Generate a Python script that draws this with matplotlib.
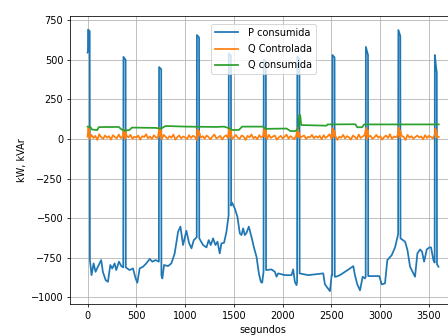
import matplotlib
matplotlib.use('Agg')
import matplotlib.pyplot as plt
import numpy as np

# P consumida (kW): time (s) and value
t_p = [0, 4, 5, 22, 24,
       41, 62, 82, 106, 140, 157, 185, 209, 233, 253, 277, 294, 322, 346, 366,
       368, 390, 392,
       431, 466, 493, 510, 534, 568, 602, 637, 664, 698, 731,
       733, 755, 757,
       767, 784, 825, 859, 893, 928, 952, 979, 1013, 1040, 1065, 1089, 1119,
       1121, 1143, 1145,
       1184, 1219, 1242, 1263, 1287, 1311, 1332, 1355, 1372, 1399, 1424, 1446,
       1448, 1470, 1472,
       1482, 1509, 1536, 1561, 1578, 1595, 1612, 1629, 1653, 1680, 1708, 1732, 1756, 1776, 1790, 1804,
       1806, 1828, 1830,
       1886, 1920, 1937, 1954, 2023, 2091, 2108, 2125, 2142, 2148,
       2150, 2172, 2174,
       2262, 2331, 2416, 2433, 2485, 2502, 2508,
       2510, 2532, 2534,
       2546, 2587, 2639, 2690, 2724, 2741, 2765, 2793, 2820, 2844, 2851,
       2853, 2875, 2877,
       2947, 2991, 3015, 3049, 3073, 3118, 3152, 3180, 3184,
       3186, 3206, 3208,
       3255, 3279, 3306, 3340, 3357, 3381, 3409, 3429, 3450, 3477, 3504, 3521, 3545, 3558,
       3560, 3570, 3580, 3582, 3597]
p_cons = [545, 550, 690, 680, -764,
          -859, -785, -838, -806, -764, -838, -890, -901, -795, -817, -785, -827, -774, -802, -810,
          518, 500, -810,
          -827, -817, -880, -907, -817, -806, -785, -757, -774, -764, -774,
          454, 440, -860,
          -880, -795, -802, -785, -722, -585, -553, -669, -579, -655, -690, -638, -620,
          656, 640, -627,
          -669, -684, -638, -669, -627, -669, -648, -722, -659, -655, -585, -480,
          540, 525, -420,
          -402, -438, -490, -596, -606, -564, -606, -593, -553, -617, -690, -743, -848, -901, -907, -838,
          500, 490, -827,
          -823, -838, -869, -848, -859, -859, -823, -901, -922, -900,
          520, 505, -848,
          -859, -854, -848, -917, -960, -859, -860,
          530, 515, -869,
          -869, -859, -838, -817, -802, -859, -917, -955, -869, -880, -870,
          581, 530, -865,
          -865, -865, -917, -911, -764, -733, -684, -612, -600,
          688, 650, -627,
          -648, -700, -806, -848, -869, -722, -697, -711, -774, -697, -684, -684, -764, -780,
          530, 470, 417, -790, -806]

# Q Controlada (kVAr), sampled every 20 s
q_ctrl = [14, 0, 26, 6, 20, -6, 30, 10, 2, 22,
          8, 18, -4, 24, 12, 4, 28, 6, 16, -2,
          20, 10, 26, 2, 14, 8, 22, -4, 18, 12,
          30, 4, 16, 0, 24, 10, 6, 20, -2, 26,
          14, 2, 18, 8, 28, -4, 12, 22, 4, 16,
          10, 0, 24, 6, 20, 14, -6, 26, 8, 18,
          2, 22, 12, -2, 16, 28, 4, 10, 20, -4,
          14, 24, 6, 18, 0, 12, 26, 8, 2, 22,
          16, -6, 20, 10, 28, 4, 14, -2, 24, 8,
          18, 12, 0, 26, 6, 16, 22, -4, 10, 20,
          4, 14, 28, 2, 18, 8, -2, 24, 12, 6,
          16, 22, 0, 14, 10, 26, 4, 18, 8, 20,
          -2, 24, 6, 16, 30, 2, 12, 20, -6, 14,
          8, 26, 4, 18, 10, -4, 22, 12, 0, 28,
          6, 16, 24, -2, 14, 20, 2, 10, 26, 8,
          18, -4, 12, 22, 6, 30, 0, 16, 10, 24,
          4, 20, 14, -6, 26, 8, 18, 2, 12, 22,
          10, 16, -2, 24, 6, 20, 12, 4, 28, 8,
          14]
t_ctrl = np.arange(len(q_ctrl)) * 20
# bumps of Q Controlada when the load switches
t_bump = [8, 18, 372, 388, 737, 753, 1125, 1141, 1452, 1468, 1810, 1826,
          2154, 2170, 2514, 2530, 2857, 2873, 3190, 3204, 3564, 3578]
q_bump = [72, 55, 60, 50, 70, 55, 60, 50, 72, 55, 68, 52,
          70, 40, 68, 52, 70, 55, 72, 55, 66, 50]

# Q consumida (kVAr)
t_qc = [0, 30, 45, 100, 115, 320, 345, 380, 430, 455,
        700, 740, 760, 800, 1010, 1320, 1400, 1460, 1480, 1550,
        1585, 1800, 1825, 2040, 2080, 2130, 2160, 2170, 2180, 2190,
        2450, 2460, 2745, 2765, 2815, 2835, 3600]
q_cons = [78, 75, 60, 56, 75, 76, 62, 52, 57, 72,
          70, 66, 68, 82, 78, 76, 78, 66, 57, 57,
          78, 78, 64, 66, 50, 50, 66, 152, 150, 88,
          84, 92, 93, 74, 74, 92, 92]

tc = np.concatenate([t_ctrl, t_bump])
qc = np.concatenate([q_ctrl, q_bump])
order = np.argsort(tc, kind='stable')

fig = plt.figure(figsize=(6.4, 335 / 70), dpi=70)
ax = fig.add_axes([70 / 448, 30.7 / 335, 386.3 / 448, 288.3 / 335])

ax.plot(t_p, p_cons, lw=1.8, label='P consumida')
ax.plot(tc[order], qc[order], lw=1.8, label='Q Controlada')
ax.plot(t_qc, q_cons, lw=1.8, label='Q consumida')

ax.set_xlim(-180, 3780)
ax.set_ylim(-1043, 776)
ax.set_xlabel('segundos')
ax.set_ylabel('kW, kVAr')
ax.grid(True)
ax.legend(loc='upper center', handlelength=2.4, labelspacing=0.65,
          borderaxespad=0.8, handletextpad=1.0)

fig.savefig('out.png', dpi=70)
